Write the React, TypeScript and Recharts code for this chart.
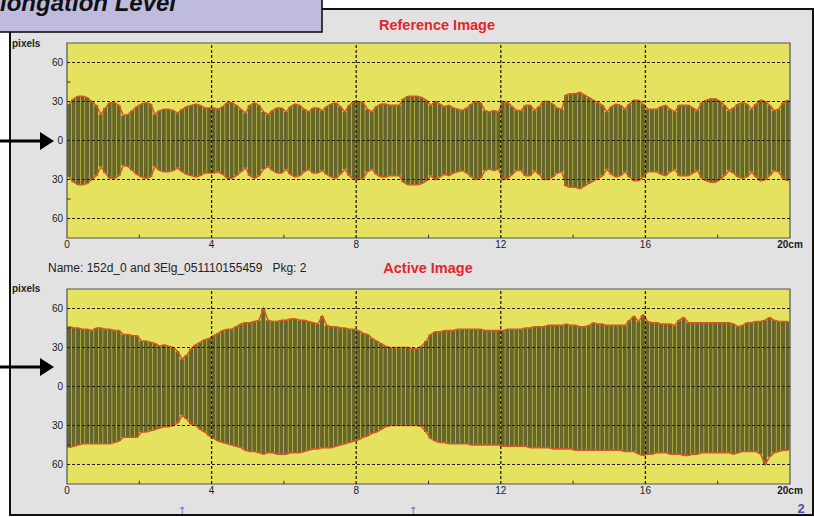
import React from 'react';
import { ComposedChart, Bar, Line, XAxis, YAxis, CartesianGrid, ReferenceLine, ReferenceArea } from 'recharts';

// bar spacing along the strip, cm
const STEP = 0.125;
const xTicks = [0, 4, 8, 12, 16, 20];
const yTicks = [-60, -30, 0, 30, 60];
const minorX = [2, 6, 10, 14, 18];
const minorY = [-45, 45];
const Y_DOMAIN: [number, number] = [-75, 75];

// Reference image: half width in pixels (symmetric around 0)
const referenceWidth = [
  28, 32, 34, 34, 33, 30, 27, 20,
  25, 29, 29, 27, 19, 20, 23, 26,
  28, 29, 28, 20, 23, 24, 24, 23,
  21, 24, 26, 27, 28, 27, 25, 25,
  25, 24, 26, 29, 29, 27, 24, 21,
  27, 29, 27, 22, 20, 23, 25, 25,
  22, 26, 28, 27, 24, 22, 25, 25,
  23, 26, 28, 29, 26, 22, 27, 30,
  30, 29, 24, 22, 26, 28, 28, 27,
  27, 27, 32, 34, 34, 34, 33, 31,
  27, 30, 28, 26, 27, 25, 24, 23,
  25, 28, 30, 29, 23, 22, 23, 22,
  30, 29, 26, 23, 23, 27, 27, 23,
  26, 30, 30, 28, 25, 24, 35, 36,
  36, 37, 35, 33, 31, 29, 27, 22,
  26, 28, 27, 24, 28, 31, 31, 28,
  24, 24, 24, 26, 27, 24, 22, 27,
  27, 27, 25, 23, 29, 31, 32, 32,
  30, 27, 23, 25, 28, 29, 28, 24,
  28, 31, 30, 27, 23, 24, 29, 31,
];

// Active image: upper and lower edges
const activeUpper = [
  46, 45, 45, 44, 44, 43, 45, 45,
  44, 44, 43, 43, 40, 40, 39, 39,
  35, 35, 34, 33, 31, 32, 31, 30,
  27, 21, 24, 29, 32, 34, 36, 37,
  39, 41, 43, 44, 44, 46, 48, 49,
  49, 50, 51, 60, 51, 50, 50, 51,
  51, 52, 52, 51, 51, 50, 49, 48,
  54, 47, 46, 46, 45, 45, 44, 44,
  43, 41, 40, 37, 35, 33, 31, 30,
  30, 30, 30, 30, 29, 29, 31, 35,
  40, 42, 42, 43, 43, 43, 44, 44,
  44, 44, 44, 44, 43, 43, 43, 43,
  43, 44, 44, 44, 44, 45, 45, 46,
  46, 46, 47, 47, 47, 47, 48, 47,
  47, 46, 46, 47, 49, 48, 48, 47,
  47, 47, 47, 47, 51, 54, 50, 55,
  50, 49, 49, 48, 48, 48, 47, 51,
  53, 49, 49, 49, 49, 49, 49, 49,
  49, 49, 49, 48, 46, 47, 49, 49,
  50, 50, 51, 53, 51, 50, 50, 50,
];

const activeLower = [
  -47, -46, -45, -44, -44, -44, -44, -44,
  -44, -44, -43, -42, -39, -39, -39, -39,
  -35, -35, -34, -33, -32, -31, -31, -30,
  -28, -22, -25, -29, -30, -33, -35, -38,
  -40, -42, -43, -44, -45, -46, -47, -49,
  -50, -50, -51, -52, -51, -51, -52, -52,
  -52, -51, -51, -51, -50, -49, -48, -48,
  -47, -47, -47, -46, -45, -44, -43, -42,
  -41, -39, -38, -36, -35, -33, -31, -30,
  -30, -30, -30, -30, -30, -30, -31, -35,
  -40, -42, -43, -43, -44, -44, -44, -44,
  -44, -45, -45, -45, -45, -45, -45, -45,
  -46, -46, -46, -46, -46, -46, -47, -47,
  -47, -47, -47, -48, -48, -48, -48, -48,
  -49, -49, -49, -49, -49, -49, -49, -49,
  -49, -49, -49, -50, -50, -50, -52, -53,
  -52, -52, -51, -51, -51, -52, -52, -52,
  -53, -53, -52, -52, -51, -51, -51, -51,
  -51, -51, -51, -52, -51, -50, -50, -50,
  -50, -52, -60, -54, -51, -50, -49, -49,
];

const refRows = referenceWidth.map((h, i) => ({ x: (i + 0.5) * STEP, hi: h, lo: -h }));
const activeRows = activeUpper.map((h, i) => ({ x: (i + 0.5) * STEP, hi: h, lo: activeLower[i] }));

const FONT = '"Liberation Sans", Arial, sans-serif';

const XTick = (props: any) => {
  const { x, y, payload } = props;
  const last = payload.value === 20;
  return (
    <text x={x} y={y} dy="0.71em" textAnchor="middle" fontSize={10} fontFamily={FONT}
      fontWeight={last ? 'bold' : 'normal'} fill="#1a1a1a">
      {last ? '20cm' : payload.value}
    </text>
  );
};

const YTick = (props: any) => {
  const { x, y, payload } = props;
  return (
    <text x={x} y={y} dy="0.355em" textAnchor="end" fontSize={10} fontFamily={FONT} fill="#1a1a1a">
      {Math.abs(payload.value)}
    </text>
  );
};

function Panel({ data, top }: { data: any[]; top: number }) {
  return (
    <div style={{ position: 'absolute', left: 0, top, width: 814, height: 260 }}>
      <ComposedChart width={814} height={260} data={data} margin={{ top: 43, right: 24, bottom: 2, left: 0 }}>
        <CartesianGrid fill="#e4e25e" horizontal={false} vertical={false} stroke="none" />
        <XAxis dataKey="x" type="number" domain={[0, 20]} ticks={xTicks} interval={0} allowDataOverflow
          axisLine={false} tickLine={false} tickSize={0} tickMargin={3} height={20} tick={(p: any) => <XTick {...p} />} />
        <YAxis type="number" domain={Y_DOMAIN} ticks={yTicks} interval={0} allowDataOverflow
          axisLine={false} tickLine={false} tickSize={0} tickMargin={4} width={67} tick={(p: any) => <YTick {...p} />} />
        <Bar dataKey={(d: any) => [d.lo, d.hi]} fill="#67662a" barSize={4} isAnimationActive={false} />
        <Line dataKey="hi" type="linear" stroke="#d4572a" strokeWidth={1.6} dot={false} isAnimationActive={false} />
        <Line dataKey="lo" type="linear" stroke="#d4572a" strokeWidth={1.6} dot={false} isAnimationActive={false} />
        {yTicks.map((t) => (
          <ReferenceLine key={'h' + t} y={t} stroke="#22220e" strokeDasharray="3 2" />
        ))}
        {xTicks.slice(1, -1).map((t) => (
          <ReferenceLine key={'v' + t} x={t} stroke="#22220e" strokeWidth={1.3} strokeDasharray="3 2" />
        ))}
        {minorX.map((t) => (
          <ReferenceLine key={'mx' + t} segment={[{ x: t, y: Y_DOMAIN[0] }, { x: t, y: Y_DOMAIN[0] + 2.5 }]} stroke="#333" />
        ))}
        {minorY.map((t) => (
          <ReferenceLine key={'my' + t} segment={[{ x: 0, y: t }, { x: 0.1, y: t }]} stroke="#333" />
        ))}
        <ReferenceArea x1={0} x2={20} y1={Y_DOMAIN[0]} y2={Y_DOMAIN[1]} fill="none" stroke="#555" strokeWidth={1.2} />
      </ComposedChart>
    </div>
  );
}

export default function App() {
  return (
    <div style={{ position: 'absolute', left: 0, top: 0, width: 814, height: 517, overflow: 'hidden', background: '#fff' }}>
      <svg width={814} height={517} style={{ position: 'absolute', left: 0, top: 0 }}>
        <rect x={10} y={9} width={803} height={506} fill="#e2e2e2" stroke="#111" strokeWidth={2} />
      </svg>
      <Panel data={refRows} top={0} />
      <Panel data={activeRows} top={246} />
      <svg width={814} height={517} style={{ position: 'absolute', left: 0, top: 0, pointerEvents: 'none' }}>
        <rect x={-2} y={-2} width={324} height={34} fill="#bebbdf" stroke="#111" strokeWidth={1.6} />
        <text x={-16} y={11} fontSize={24} fontWeight="bold" fontStyle="italic" fontFamily={FONT} fill="#111">
          Elongation Level
        </text>
        <text x={437} y={30} textAnchor="middle" fontSize={14.5} fontWeight="bold" fontFamily={FONT} fill="#e3262c">Reference Image</text>
        <text x={428} y={273} textAnchor="middle" fontSize={14.5} fontWeight="bold" fontFamily={FONT} fill="#e3262c">Active Image</text>
        <text x={48} y={272} fontSize={12} fontFamily={FONT} fill="#222">
          Name: 152d_0 and 3Elg_051110155459{'\u00a0\u00a0\u00a0'}Pkg: 2
        </text>
        <text x={12} y={47} fontSize={10} fontWeight="bold" fontFamily={FONT} fill="#222">pixels</text>
        <text x={12} y={292} fontSize={10} fontWeight="bold" fontFamily={FONT} fill="#222">pixels</text>
        <line x1={0} y1={141} x2={42} y2={141} stroke="#000" strokeWidth={3} />
        <polygon points="40,132 54,141 40,150" fill="#000" />
        <line x1={0} y1={367} x2={42} y2={367} stroke="#000" strokeWidth={3} />
        <polygon points="40,358 54,367 40,376" fill="#000" />
        <text x={182} y={514} textAnchor="middle" fontSize={10} fontFamily="DejaVu Sans" fill="#6a6ad0">↑</text>
        <text x={413} y={514} textAnchor="middle" fontSize={10} fontFamily="DejaVu Sans" fill="#6a6ad0">↑</text>
        <text x={801} y={513} textAnchor="middle" fontSize={13} fontWeight="bold" fontFamily={FONT} fill="#4b4bb4">2</text>
      </svg>
    </div>
  );
}
